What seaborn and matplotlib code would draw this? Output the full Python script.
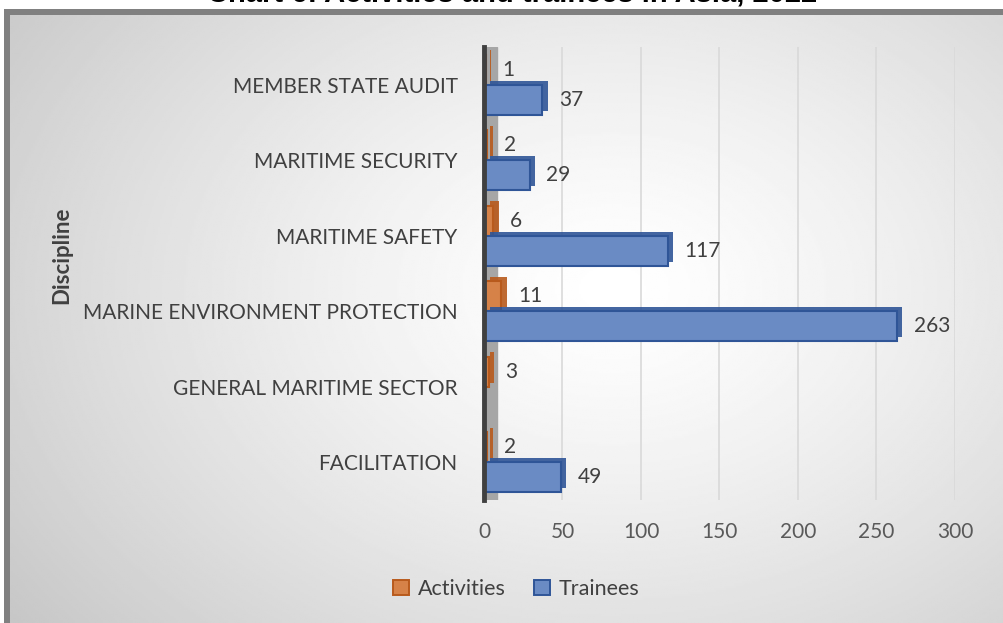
import numpy as np
import pandas as pd
import matplotlib
matplotlib.use("Agg")
import matplotlib.pyplot as plt
import matplotlib.patheffects as pe
import seaborn as sns

# dados do gráfico
disciplines = ["MEMBER STATE AUDIT", "MARITIME SECURITY", "MARITIME SAFETY",
               "MARINE ENVIRONMENT PROTECTION", "GENERAL MARITIME SECTOR", "FACILITATION"]
activities = [1, 2, 6, 11, 3, 2]
trainees = [37, 29, 117, 263, np.nan, 49]
series_names = ["Activities", "Trainees"]
x_ticks = [0, 50, 100, 150, 200, 250, 300]

title = "Chart 6: Activities and trainees in Asia, 2022"

orange, orange_dark = "#ED7D31", "#B85A1C"
blue, blue_dark = "#5B87D3", "#2F5597"

df = pd.DataFrame({
    "Discipline": disciplines * 2,
    "Value": activities + trainees,
    "Series": [series_names[0]] * len(disciplines) + [series_names[1]] * len(disciplines),
})

sns.set_theme(style="white")
plt.rcParams["font.family"] = ["Lato", "DejaVu Sans"]

fig = plt.figure(figsize=(10.04, 6.23), dpi=100)

# moldura com sombra e fundo em degradê radial
frame = fig.add_axes([4 / 1004, 0, 1, 1 - 9 / 623], zorder=0)
frame.set_facecolor("#808080")
frame.set_xticks([]); frame.set_yticks([])
for s in frame.spines.values():
    s.set_visible(False)

bg = fig.add_axes([10 / 1004, 0, 1, 1 - 15 / 623], zorder=1)
yy, xx = np.mgrid[0:1:300j, 0:1:500j]
r = np.sqrt(((xx - 0.6) / 0.75) ** 2 + ((yy - 0.45) / 0.9) ** 2)
grad = 1 - 0.22 * np.clip(r, 0, 1) ** 1.3
bg.imshow(grad, cmap="gray", vmin=0, vmax=1, aspect="auto", extent=[0, 1, 1, 0])
bg.axis("off")

ax = fig.add_axes([484 / 1004, 1 - 500 / 623, (955 - 484) / 1004, 453 / 623], zorder=2)
ax.set_facecolor("none")

sns.barplot(data=df, y="Discipline", x="Value", hue="Series", orient="h",
            palette=[orange, blue], width=0.8, errorbar=None, ax=ax,
            order=disciplines, hue_order=series_names)

edges = [orange_dark, blue_dark]
for cont, ec in zip(ax.containers, edges):
    for bar in cont:
        bar.set_edgecolor(ec)
        bar.set_linewidth(1.5)
        bar.set_path_effects([pe.SimplePatchShadow(offset=(4, 3), shadow_rgbFace=ec, alpha=0.9),
                              pe.Normal()])
    labels = ["" if np.isnan(v) else f"{v:g}" for v in cont.datavalues]
    ax.bar_label(cont, labels=labels, padding=12, fontsize=15, color="#404040")

ax.axvspan(0, 8, color="#a6a6a6", zorder=0)

ax.set_xlim(0, 300)
ax.set_xticks(x_ticks)
ax.grid(axis="x", color="#d9d9d9", linewidth=1.2)
ax.set_axisbelow(True)
ax.tick_params(axis="x", length=0, pad=16, labelsize=15, labelcolor="#595959")
ax.tick_params(axis="y", length=0, pad=19, labelsize=15, labelcolor="#404040")
ax.set_xlabel("")
ax.set_ylabel("")
for side in ["top", "right", "bottom"]:
    ax.spines[side].set_visible(False)
ax.spines["left"].set_color("#404040")
ax.spines["left"].set_linewidth(3.5)

fig.text(62 / 1004, 1 - 255 / 623, "Discipline", rotation=90, ha="center", va="center",
         fontsize=16, fontweight="bold", color="#404040")

# título cortado no topo, como na imagem original
fig.text(512 / 1004, 1 - 2 / 623, title, ha="center", va="baseline", fontsize=21,
         fontweight="bold", color="#000000", family=["Liberation Sans", "DejaVu Sans"])

sns.move_legend(ax, "center", bbox_to_anchor=(516 / 1004, 1 - 589 / 623),
                bbox_transform=fig.transFigure, ncol=2, frameon=False, title=None,
                fontsize=15.5, handlelength=0.75, handleheight=0.75, columnspacing=1.3,
                handletextpad=0.4)
for h, ec in zip(ax.get_legend().legend_handles, edges):
    h.set_edgecolor(ec)
    h.set_linewidth(1.4)
for t in ax.get_legend().get_texts():
    t.set_color("#404040")

fig.savefig("out.png", dpi=100)
